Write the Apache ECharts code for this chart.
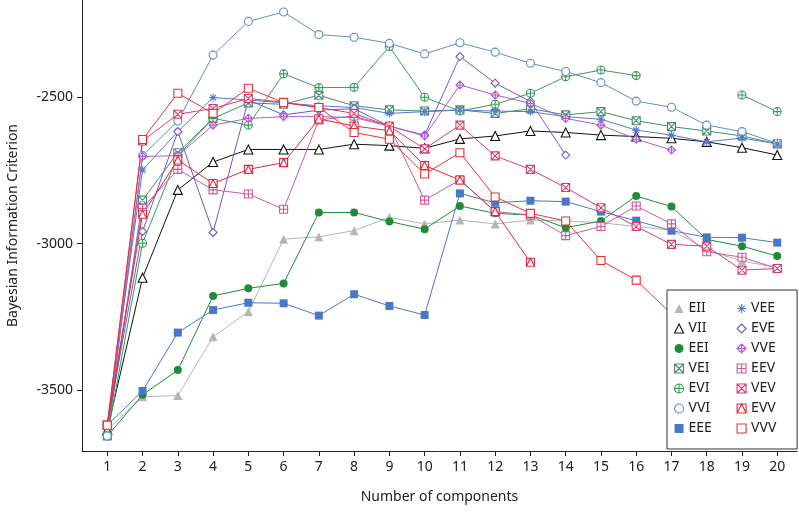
<!DOCTYPE html>
<html><head><meta charset="utf-8">
<script src="https://cdn.jsdelivr.net/npm/echarts@6/dist/echarts.min.js"></script>
<style>html,body{margin:0;padding:0;background:#fff}#c{width:799px;height:513px}</style>
</head><body><div id="c"></div>
<script>
const components = [1,2,3,4,5,6,7,8,9,10,11,12,13,14,15,16,17,18,19,20];
const modelNames = ['EII','VII','EEI','VEI','EVI','VVI','EEE','VEE','EVE','VVE','EEV','VEV','EVV','VVV'];
const yTicks = [-3500,-3000,-2500];

const EII = [-3636,-3523,-3519,-3318,-3233,-2985,-2977,-2956,-2911,-2933,-2920,-2933,-2920,-2923,-2929,-2942,-2954,-3022,-3060,-3082];
const VII = [-3636,-3117,-2817,-2722,-2679,-2679,-2679,-2661,-2666,-2675,-2643,-2633,-2616,-2621,-2630,-2635,-2641,-2653,-2673,-2698];
const EEI = [-3657,-3516,-3432,-3179,-3153,-3136,-2894,-2894,-2925,-2951,-2872,-2897,-2903,-2946,-2923,-2838,-2874,-2986,-3009,-3043];
const VEI = [-3657,-2852,-2690,-2573,-2520,-2525,-2494,-2530,-2544,-2548,-2544,-2556,-2540,-2561,-2550,-2581,-2601,-2616,-2633,-2660];
const EVI = [-3657,-2999,-2700,-2573,-2596,-2421,-2468,-2467,-2328,-2501,-2548,-2525,-2487,-2431,-2408,-2427,null,null,-2493,-2550];
const VVI = [-3657,-2700,-2582,-2357,-2242,-2210,-2287,-2296,-2317,-2353,-2315,-2347,-2385,-2413,-2451,-2514,-2535,-2596,-2618,-2658];
const EEE = [-3620,-3503,-3304,-3227,-3202,-3204,-3246,-3173,-3213,-3244,-2829,-2861,-2854,-2857,-2891,-2922,-2956,-2979,-2980,-2997];
const VEE = [-3620,-2749,-2618,-2502,-2510,-2520,-2530,-2536,-2556,-2550,-2545,-2548,-2550,-2567,-2576,-2613,-2630,-2653,-2640,-2660];
const EVE = [-3620,-2959,-2618,-2962,-2510,-2561,-2545,-2540,-2600,-2630,-2362,-2453,-2515,-2698,null,null,null,null,null,null];
const VVE = [-3620,-2703,-2700,-2596,-2573,-2567,-2567,-2570,-2599,-2633,-2459,-2493,-2522,-2573,-2596,-2644,-2681,null,null,null];
const EEV = [-3620,-2880,-2747,-2817,-2831,-2883,-2578,-2565,-2600,-2852,-2783,-2891,-2903,-2973,-2942,-2872,-2933,-3028,-3047,-3085];
const VEV = [-3620,-2650,-2559,-2539,-2505,-2518,-2536,-2556,-2600,-2677,-2596,-2701,-2747,-2809,-2878,-2942,-3003,-3009,-3091,-3085];
const EVV = [-3620,-2900,-2715,-2795,-2747,-2724,-2575,-2599,-2615,-2734,-2783,-2891,-3064,null,null,null,null,null,null,null];
const VVV = [-3620,-2645,-2487,-2556,-2470,-2519,-2536,-2621,-2644,-2763,-2690,-2841,-2897,-2923,-3058,-3125,-3240,null,null,null];

const seriesValues = {EII,VII,EEI,VEI,EVI,VVI,EEE,VEE,EVE,VVE,EEV,VEV,EVV,VVV};

const styles = {
  EII: {c:'#b5b5b5', sym:'triangle', filled:true},
  VII: {c:'#111111', sym:'triangle'},
  EEI: {c:'#1f8c3b', sym:'circle', filled:true},
  VEI: {c:'#468a70', sym:'path://M0,0H10V10H0Z M0,0L10,10 M10,0L0,10'},
  EVI: {c:'#3c9a58', sym:'path://M5,0A5,5,0,1,1,5,10A5,5,0,1,1,5,0Z M5,0V10 M0,5H10'},
  VVI: {c:'#5e8fc2', sym:'circle'},
  EEE: {c:'#4a78c8', sym:'rect', filled:true},
  VEE: {c:'#5877d6', sym:'path://M5,0V10 M0,5H10 M1.5,1.5L8.5,8.5 M8.5,1.5L1.5,8.5'},
  EVE: {c:'#6a5acd', sym:'diamond'},
  VVE: {c:'#b05ccc', sym:'path://M5,0L10,5L5,10L0,5Z M5,0V10 M0,5H10'},
  EEV: {c:'#c95a9c', sym:'path://M0,0H10V10H0Z M5,0V10 M0,5H10'},
  VEV: {c:'#d0406c', sym:'path://M0,0H10V10H0Z M0,0L10,10 M10,0L0,10'},
  EVV: {c:'#e0283c', sym:'path://M0,0H10V10H0Z M0,10L5,0L10,10'},
  VVV: {c:'#e83232', sym:'rect'}
};

function itemStyleOf(s){
  return s.filled ? {color:s.c, borderWidth:0} : {color:'#ffffff', borderColor:s.c, borderWidth:1.1};
}

const series = modelNames.map(n => {
  const s = styles[n];
  return {
    name:n, type:'line',
    data: seriesValues[n].map((v,i)=>[components[i], v]),
    symbol:s.sym, symbolSize: s.sym==='triangle'?9:8,
    itemStyle: itemStyleOf(s),
    lineStyle: {color:s.c, width:1},
    emphasis:{disabled:true},
    connectNulls:false,
    animation:false
  };
});

const font = 'Noto Sans';
const chart = echarts.init(document.getElementById('c'), null, {renderer:'canvas'});
chart.setOption({
  animation:false,
  textStyle:{fontFamily:font},
  grid:{left:82, right:2, top:0, bottom:62, containLabel:false, outerBoundsMode:'none'},
  xAxis:{
    type:'value', min:0.2825, max:20.56,
    axisLine:{show:true, lineStyle:{color:'#222', width:1}},
    axisTick:{show:true, customValues:components, length:5, lineStyle:{color:'#222'}},
    axisLabel:{customValues:components, fontSize:14, color:'#222', margin:9, fontFamily:font},
    splitLine:{show:false},
    name:'Number of components', nameLocation:'middle', nameGap:39,
    nameTextStyle:{fontSize:14, color:'#222', fontFamily:font}
  },
  yAxis:{
    type:'value', min:-3708, max:-2169,
    axisLine:{show:true, lineStyle:{color:'#222', width:1}},
    axisTick:{show:true, customValues:yTicks, length:5, lineStyle:{color:'#222'}},
    axisLabel:{customValues:yTicks, fontSize:14, color:'#222', margin:9, fontFamily:font, formatter:v=>String(v)},
    splitLine:{show:false},
    name:'Bayesian Information Criterion', nameLocation:'middle', nameGap:62,
    nameTextStyle:{fontSize:14, color:'#222', fontFamily:font}
  },
  legend:{
    orient:'vertical', left:667, top:290, height:140,
    padding:[11,3,13,7],
    backgroundColor:'#fff', borderColor:'#333', borderWidth:1,
    itemWidth:9, itemHeight:9, itemGap:5,
    textStyle:{fontSize:14, color:'#222', width:43, lineHeight:15, fontFamily:font},
    data: modelNames.map(n => ({name:n, icon:styles[n].sym, itemStyle:itemStyleOf(styles[n])})),
    selectedMode:false
  },
  series
});
</script></body></html>
